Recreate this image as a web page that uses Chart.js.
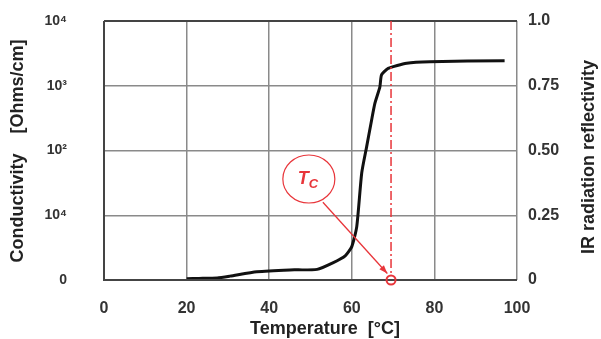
<!DOCTYPE html>
<html>
<head>
<meta charset="utf-8">
<script src="https://cdn.jsdelivr.net/npm/chart.js@4"></script>
<style>
    body { margin: 0; background: #fff; }
    #wrap { width: 601px; height: 339px; }
</style>
</head>
<body>
<div id="wrap"><canvas id="chart" width="601" height="339"></canvas></div>
<script>
// curve (temperature in degC, reflectivity 0..1)
const temps = [20, 23, 27.4, 30.5, 37, 45, 51.6, 55.4, 58.4, 60, 61.2, 62.4, 63.6, 64.8, 65.6, 66.8, 67.2, 68.8, 73.3, 78.9, 97];
const reflectivity = [0.005, 0.006, 0.008, 0.015, 0.032, 0.039, 0.041, 0.066, 0.093, 0.129, 0.206, 0.413, 0.515, 0.618, 0.683, 0.746, 0.792, 0.817, 0.837, 0.843, 0.847];

const xTicks = [0, 20, 40, 60, 80, 100];
const leftTickLabels = ['0', '10\u2074', '10\u00b2', '10\u00b3', '10\u2074'];
const rightTickLabels = ['0', '0.25', '0.50', '0.75', '1.0'];

const tcTemp = 69.5;
// Tc bubble and arrow, in data units
const tcBubble = { x: 49.6, y: 0.39 };
const tcArrowFrom = { x: 53, y: 0.30 };
const tcArrowTo = { x: 68.6, y: 0.025 };

const RED = '#e8353a';
const FONT = '"Liberation Sans", Arial, sans-serif';

const curve = temps.map((t, i) => ({ x: t, y: reflectivity[i] }));

const overlay = {
    id: 'overlay',
    afterDatasetsDraw(chart) {
        const ctx = chart.ctx;
        const xs = chart.scales.x;
        const ys = chart.scales.y;
        const area = chart.chartArea;

        ctx.save();
        // frame
        ctx.strokeStyle = '#444';
        ctx.lineWidth = 2;
        ctx.beginPath();
        ctx.moveTo(area.left, area.top);
        ctx.lineTo(area.right, area.top);
        ctx.moveTo(area.left, area.top);
        ctx.lineTo(area.left, area.bottom);
        ctx.lineTo(area.right, area.bottom);
        ctx.stroke();

        // Tc vertical dash-dot line
        const tx = xs.getPixelForValue(tcTemp);
        ctx.strokeStyle = RED;
        ctx.lineWidth = 1.5;
        ctx.setLineDash([9, 3, 2, 3]);
        ctx.beginPath();
        ctx.moveTo(tx, area.top);
        ctx.lineTo(tx, ys.getPixelForValue(0) - 5);
        ctx.stroke();
        ctx.setLineDash([]);

        // small open circle on the axis
        ctx.lineWidth = 2;
        ctx.beginPath();
        ctx.arc(tx, ys.getPixelForValue(0), 4.5, 0, Math.PI * 2);
        ctx.stroke();

        // bubble
        const bx = xs.getPixelForValue(tcBubble.x);
        const by = ys.getPixelForValue(tcBubble.y);
        ctx.lineWidth = 1.2;
        ctx.beginPath();
        ctx.ellipse(bx, by, 26, 24, 0, 0, Math.PI * 2);
        ctx.fillStyle = '#fff';
        ctx.fill();
        ctx.stroke();

        ctx.fillStyle = RED;
        ctx.font = 'italic bold 18px ' + FONT;
        ctx.textAlign = 'left';
        ctx.textBaseline = 'alphabetic';
        ctx.fillText('T', bx - 11, by + 5);
        ctx.font = 'italic bold 13px ' + FONT;
        ctx.fillText('C', bx, by + 9);

        // arrow
        const ax0 = xs.getPixelForValue(tcArrowFrom.x);
        const ay0 = ys.getPixelForValue(tcArrowFrom.y);
        const ax1 = xs.getPixelForValue(tcArrowTo.x);
        const ay1 = ys.getPixelForValue(tcArrowTo.y);
        ctx.lineWidth = 1.3;
        ctx.beginPath();
        ctx.moveTo(ax0, ay0);
        ctx.lineTo(ax1, ay1);
        ctx.stroke();
        const ang = Math.atan2(ay1 - ay0, ax1 - ax0);
        ctx.beginPath();
        ctx.moveTo(ax1, ay1);
        ctx.lineTo(ax1 - 9 * Math.cos(ang - 0.35), ay1 - 9 * Math.sin(ang - 0.35));
        ctx.lineTo(ax1 - 9 * Math.cos(ang + 0.35), ay1 - 9 * Math.sin(ang + 0.35));
        ctx.closePath();
        ctx.fill();

        // axis titles
        ctx.fillStyle = '#222';
        ctx.font = 'bold 18px ' + FONT;
        ctx.textAlign = 'center';
        ctx.textBaseline = 'middle';
        ctx.fillText('Temperature  [\u00b0C]', 325, 329);

        ctx.translate(18, 151);
        ctx.rotate(-Math.PI / 2);
        ctx.fillText('Conductivity    [Ohms/cm]', 0, 0);
        ctx.setTransform(1, 0, 0, 1, 0, 0);

        ctx.translate(589, 157);
        ctx.rotate(-Math.PI / 2);
        ctx.fillText('IR radiation reflectivity', 0, 0);
        ctx.restore();
    }
};

const tickFont = { family: FONT, size: 16, weight: 'bold' };

new Chart(document.getElementById('chart'), {
    type: 'line',
    data: {
        datasets: [{
            data: curve,
            yAxisID: 'y',
            borderColor: '#111',
            borderWidth: 3,
            pointRadius: 0,
            tension: 0.2,
            fill: false
        }]
    },
    options: {
        responsive: false,
        animation: false,
        layout: { padding: { top: 21, left: 0, right: 0, bottom: 0 } },
        plugins: { legend: { display: false }, tooltip: { enabled: false } },
        scales: {
            x: {
                type: 'linear',
                min: 0,
                max: 100,
                afterBuildTicks: s => { s.ticks = xTicks.map(v => ({ value: v })); },
                ticks: { font: tickFont, color: '#333', padding: 19, maxRotation: 0 },
                grid: { color: '#8a8a8a', lineWidth: 1.5, drawTicks: false },
                border: { display: false },
                afterFit: s => { s.height = 59; s.paddingLeft = 0; s.paddingRight = 0; }
            },
            y1: {
                position: 'left',
                min: 0,
                max: 1,
                afterBuildTicks: s => { s.ticks = leftTickLabels.map((_, i) => ({ value: i * 0.25 })); },
                ticks: {
                    font: { family: FONT, size: 14, weight: 'bold' }, color: '#333', padding: 37,
                    callback: (v, i) => leftTickLabels[i]
                },
                grid: { display: false, drawTicks: false },
                border: { display: false },
                afterFit: s => { s.width = 104; s.paddingTop = 0; s.paddingBottom = 0; }
            },
            y: {
                position: 'right',
                min: 0,
                max: 1,
                afterBuildTicks: s => { s.ticks = rightTickLabels.map((_, i) => ({ value: i * 0.25 })); },
                ticks: {
                    font: tickFont, color: '#333', padding: 11,
                    callback: (v, i) => rightTickLabels[i]
                },
                grid: { color: '#8a8a8a', lineWidth: 1.5, drawTicks: false },
                border: { display: false },
                afterFit: s => { s.width = 84; s.paddingTop = 0; s.paddingBottom = 0; }
            }
        }
    },
    plugins: [overlay]
});
</script>
</body>
</html>
